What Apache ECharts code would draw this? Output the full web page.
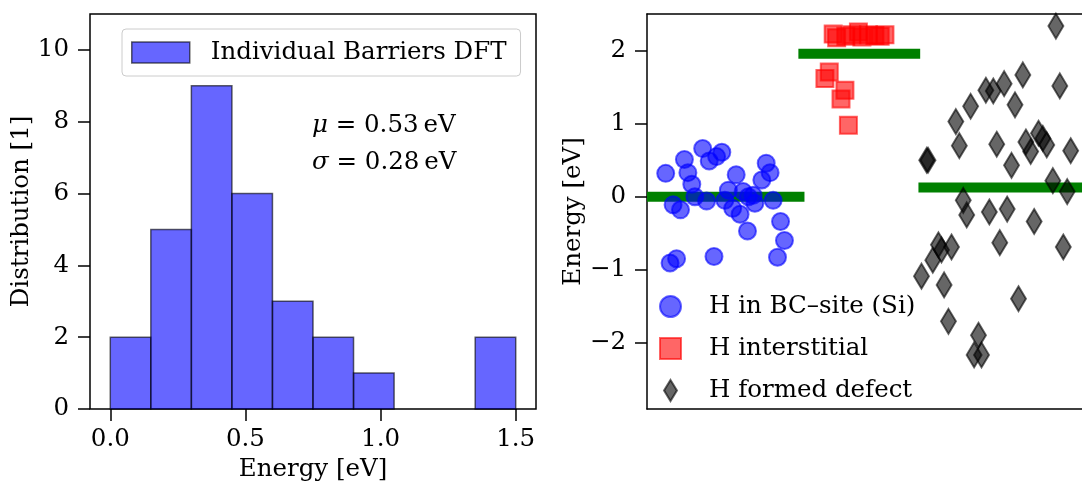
<!DOCTYPE html>
<html>
<head>
<meta charset="utf-8">
<script src="https://cdn.jsdelivr.net/npm/echarts@6/dist/echarts.min.js"></script>
<style>
  html, body { margin: 0; padding: 0; background: #fff; }
  #chart { width: 1082px; height: 490px; }
</style>
</head>
<body>
<div id="chart"></div>
<script>
// ---- Left panel: histogram of individual DFT barriers (eV) ----
const binEdges  = [0.00, 0.15, 0.30, 0.45, 0.60, 0.75, 0.90, 1.05, 1.20, 1.35, 1.50];
const binCounts = [2, 5, 9, 6, 3, 2, 1, 0, 0, 2];
const histTicksX = [0.0, 0.5, 1.0, 1.5];
const histTicksY = [0, 2, 4, 6, 8, 10];
const statSymbols = ['μ', 'σ'];
const statValues  = ['0.53', '0.28'];
const histName = 'Individual Barriers DFT';

// ---- Right panel: energies per configuration (x is only a spread position) ----
const bcX = [0.43, 0.86, 0.94, 1.03, 1.28, 1.43, 1.60, 1.72, 1.10, 0.60, 0.77, 1.37, 2.05, 1.87, 1.79, 1.97,
             2.14, 2.21, 2.33, 2.48, 2.64, 2.74, 2.83, 2.44, 2.90, 2.31, 3.07, 3.16, 3.00, 0.53, 0.68, 1.54];
const bcE = [0.32, 0.51, 0.33, 0.17, 0.66, 0.49, 0.55, 0.61, 0.00, -0.11, -0.18, -0.06, 0.30, 0.09, -0.05, -0.16,
             -0.24, 0.07, 0.00, -0.09, 0.23, 0.46, 0.33, 0.02, -0.05, -0.47, -0.34, -0.60, -0.83, -0.91, -0.85, -0.82];

const intX = [4.19, 4.09, 4.55, 4.46, 4.63, 4.28, 4.36, 4.57, 4.71, 4.86, 4.94, 5.09, 5.24, 5.36, 5.47];
const intE = [1.71, 1.62, 1.46, 1.34, 0.98, 2.23, 2.18, 2.20, 2.22, 2.26, 2.19, 2.22, 2.21, 2.20, 2.22];

const defX = [9.40, 9.49, 8.64, 8.21, 7.96, 7.79, 8.46, 7.44, 7.10, 7.18, 8.04, 8.71, 8.82, 9.00, 9.10, 9.19,
              9.74, 8.38, 6.43, 6.46, 9.33, 9.66, 7.27, 7.35, 7.87, 8.28, 8.90, 8.11, 9.57, 6.70, 6.77, 7.00,
              6.57, 6.31, 6.83, 8.54, 6.93, 7.62, 7.52, 7.69];
const defE = [2.34, 1.52, 1.67, 1.55, 1.45, 1.46, 1.26, 1.24, 1.03, 0.70, 0.72, 0.75, 0.62, 0.87, 0.80, 0.71,
              0.63, 0.43, 0.50, 0.50, 0.22, 0.07, -0.05, -0.25, -0.21, -0.17, -0.34, -0.63, -0.69, -0.66, -0.73, -0.69,
              -0.87, -1.09, -1.21, -1.40, -1.71, -1.90, -2.17, -2.17];

const groupNames = ['H in BC–site (Si)', 'H interstitial', 'H formed defect'];
const groupMeans = [0.00, 1.96, 0.125];
const meanSpans  = [[0.00, 3.62], [3.48, 6.28], [6.24, 10.0]];
const energyTicks = [-2, -1, 0, 1, 2];

const FONT = 'DejaVu Serif';
const FS = 24.5;
const txt = { fontFamily: FONT, fontSize: FS, color: '#000' };
const minus = v => (v < 0 ? '\u2212' + Math.abs(v) : String(v));

const zip = (xs, ys) => xs.map((x, i) => [x, ys[i]]);
const histData = binCounts.map((c, i) => [binEdges[i], binEdges[i + 1], c]);

const chart = echarts.init(document.getElementById('chart'), null, { renderer: 'canvas' });

const statRich = {
  i: { fontFamily: FONT, fontSize: FS, fontStyle: 'italic', color: '#000' },
  n: { fontFamily: FONT, fontSize: FS, color: '#000' }
};

const spine = { color: '#000', width: 1.5 };

chart.setOption({
  animation: false,
  backgroundColor: '#fff',
  grid: [
    { left: 90, top: 14, width: 446, height: 395, show: true, borderColor: '#000', borderWidth: 1.5, backgroundColor: 'transparent' },
    { left: 647, top: 14, width: 435, height: 395 }
  ],
  xAxis: [
    {
      gridIndex: 0, type: 'value', min: -0.075, max: 1.575,
      axisLine: { show: false, onZero: false },
      axisTick: { show: true, inside: false, length: 12, lineStyle: spine, customValues: histTicksX },
      axisLabel: { ...txt, margin: 18, customValues: histTicksX, formatter: v => v.toFixed(1) },
      splitLine: { show: false },
      name: 'Energy [eV]', nameLocation: 'middle', nameGap: 42, nameTextStyle: txt
    },
    {
      gridIndex: 1, type: 'value', min: 0, max: 10, position: 'bottom',
      axisLine: { show: true, onZero: false, lineStyle: spine },
      axisTick: { show: false }, axisLabel: { show: false }, splitLine: { show: false }
    },
    {
      gridIndex: 1, type: 'value', min: 0, max: 10, position: 'top',
      axisLine: { show: true, onZero: false, lineStyle: spine },
      axisTick: { show: false }, axisLabel: { show: false }, splitLine: { show: false }
    }
  ],
  yAxis: [
    {
      gridIndex: 0, type: 'value', min: 0, max: 11,
      axisLine: { show: false, onZero: false },
      axisTick: { show: true, length: 12, lineStyle: spine, customValues: histTicksY },
      axisLabel: { ...txt, margin: 21, customValues: histTicksY },
      splitLine: { show: false },
      name: 'Distribution [1]', nameLocation: 'middle', nameGap: 53, nameTextStyle: txt
    },
    {
      gridIndex: 1, type: 'value', min: -2.912, max: 2.506,
      axisLine: { show: true, onZero: false, lineStyle: spine },
      axisTick: { show: true, length: 12, lineStyle: spine, customValues: energyTicks },
      axisLabel: { ...txt, margin: 21, customValues: energyTicks, formatter: minus },
      splitLine: { show: false },
      name: 'Energy [eV]', nameLocation: 'middle', nameGap: 58, nameTextStyle: txt
    }
  ],
  legend: [
    {
      data: [{ name: histName, icon: 'rect',
               itemStyle: { color: 'rgba(0,0,255,0.6)', borderColor: 'rgba(0,0,0,0.6)', borderWidth: 1.5 } }],
      left: 122, top: 29,
      itemWidth: 58, itemHeight: 21,
      padding: [11, 14, 11, 9],
      backgroundColor: 'rgba(255,255,255,0.8)', borderColor: '#cccccc', borderWidth: 1, borderRadius: 4,
      textStyle: { ...txt, padding: [0, 0, 0, 16] },
      selectedMode: false
    },
    {
      data: [
        { name: groupNames[0], icon: 'circle',
          itemStyle: { color: '#0000ff', borderColor: '#0000ff', borderWidth: 2 } },
        { name: groupNames[1], icon: 'path://M0,0L10,0L10,10L0,10Z',
          itemStyle: { color: '#ff0000', borderColor: '#ff0000', borderWidth: 2 } },
        { name: groupNames[2], icon: 'path://M0,-13L8,0L0,13L-8,0Z',
          itemStyle: { color: '#000000', borderColor: '#000000', borderWidth: 2 } }
      ],
      orient: 'vertical', left: 659, top: 294,
      itemWidth: 21, itemHeight: 21, itemGap: 17,
      padding: 0,
      textStyle: { ...txt, padding: [0, 0, 0, 23] },
      selectedMode: false
    }
  ],
  graphic: statSymbols.map((s, i) => ({
    type: 'text', left: 312, top: 113 + i * 37, z: 10,
    style: { text: '{i|' + s + '}{n| = ' + statValues[i] + '\u2009eV}', rich: statRich }
  })),
  series: [
    {
      name: histName, type: 'custom', xAxisIndex: 0, yAxisIndex: 0,
      itemStyle: { color: 'rgba(0,0,255,0.6)' },
      encode: { x: [0, 1], y: 2 },
      data: histData,
      renderItem: (params, api) => {
        const c = api.value(2);
        if (c <= 0) return null;
        const p0 = api.coord([api.value(0), c]);
        const p1 = api.coord([api.value(1), 0]);
        return {
          type: 'rect',
          shape: { x: p0[0], y: p0[1], width: p1[0] - p0[0], height: p1[1] - p0[1] },
          style: { fill: 'rgba(0,0,255,0.6)', stroke: 'rgba(0,0,0,0.6)', lineWidth: 1.5 }
        };
      }
    },
    ...groupMeans.map((m, i) => ({
      type: 'line', xAxisIndex: 1, yAxisIndex: 1, z: 1, silent: true,
      showSymbol: false, symbol: 'none',
      lineStyle: { color: '#008000', width: 10, cap: 'butt' },
      data: [[meanSpans[i][0], m], [meanSpans[i][1], m]]
    })),
    {
      name: groupNames[0], type: 'scatter', xAxisIndex: 1, yAxisIndex: 1, z: 3,
      symbol: 'circle', symbolSize: 17,
      itemStyle: { color: '#0000ff', borderColor: '#0000ff', borderWidth: 2, opacity: 0.6 },
      data: zip(bcX, bcE)
    },
    {
      name: groupNames[1], type: 'scatter', xAxisIndex: 1, yAxisIndex: 1, z: 3,
      symbol: 'rect', symbolSize: 17,
      itemStyle: { color: '#ff0000', borderColor: '#ff0000', borderWidth: 2, opacity: 0.6 },
      data: zip(intX, intE)
    },
    {
      name: groupNames[2], type: 'scatter', xAxisIndex: 1, yAxisIndex: 1, z: 3,
      symbol: 'diamond', symbolSize: [15, 25],
      itemStyle: { color: '#000000', borderColor: '#000000', borderWidth: 2, opacity: 0.6 },
      data: zip(defX, defE)
    }
  ]
});
</script>
</body>
</html>
